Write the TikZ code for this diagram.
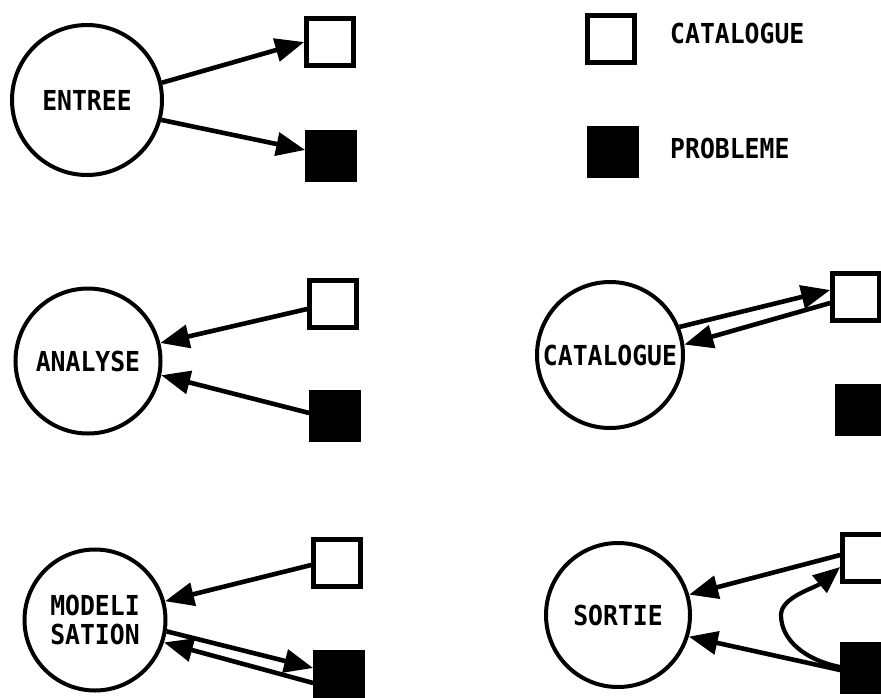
\documentclass[tikz,border=0pt]{standalone}
\usepackage{fontspec}
\setmonofont[FakeStretch=0.9]{DejaVu Sans Mono}
\usetikzlibrary{arrows.meta}
\tikzset{
  txt/.style={font=\ttfamily\bfseries\fontsize{27.5}{29}\selectfont},
  proc/.style={circle, draw, line width=4pt, inner sep=0pt, align=center, txt},
  catbox/.style={rectangle, draw, fill=white, line width=4.6pt, minimum size=47pt, inner sep=0pt},
  probbox/.style={rectangle, draw, fill=black, line width=4.6pt, minimum size=47pt, inner sep=0pt},
  conn/.style={line width=4.6pt, -{Triangle[length=29pt,width=23pt]}},
  loopconn/.style={line width=4.2pt, -{Triangle[length=27pt,width=22pt]}},
  lbl/.style={anchor=west, inner sep=0pt, txt}
}
\begin{document}
\begin{tikzpicture}[x=1pt,y=-1pt]
\useasboundingbox (0,0) rectangle (881,697);
\clip (0,0) rectangle (881,697);
\fill[white] (0,0) rectangle (881,697);

% legend
\node[catbox] (lw) at (611,39) {};
\node[probbox] (lb) at (613,152) {};
\node[lbl] (lt1) at (670,33) {CATALOGUE};
\node[lbl] (lt2) at (670,148) {PROBLEME};

% ENTREE
\node[proc, minimum size=150pt] (entree) at (87,100) {ENTREE};
\node[catbox] (ew) at (330,42) {};
\node[probbox] (eb) at (331,156) {};
\draw[conn] (entree.13) -- (ew.west);
\draw[conn] (entree.-15) -- ([yshift=6pt]eb.west);

% ANALYSE
\node[proc, minimum size=145pt] (analyse) at (88,361) {ANALYSE};
\node[catbox] (aw) at (333,304) {};
\node[probbox] (ab) at (335,416) {};
\draw[conn] ([yshift=-5pt]aw.west) -- (analyse.14);
\draw[conn] ([yshift=3pt]ab.west) -- (analyse.-11);

% CATALOGUE
\node[proc, minimum size=146pt] (cat) at (610,355) {CATALOGUE};
\node[catbox] (cw) at (856,297) {};
\node[probbox] (cb) at (861,410) {};
\draw[conn] (cat.22) -- ([yshift=7pt]cw.west);
\draw[conn] ([yshift=-6pt]cw.west) -- (cat.8);

% MODELISATION
\node[proc, minimum size=141pt] (model) at (95,620) {MODELI\\SATION};
\node[catbox] (mw) at (337,563) {};
\node[probbox] (mb) at (339,676) {};
\draw[conn] ([yshift=-2pt]mw.west) -- (model.15);
\draw[conn] (model.-9) -- ([yshift=8pt]mb.west);
\draw[conn] ([yshift=-7pt]mb.west) -- (model.-18);

% SORTIE
\node[proc, minimum size=144pt] (sortie) at (618,615) {SORTIE};
\node[catbox] (sw) at (866,558) {};
\node[probbox] (sb) at (866,668) {};
\coordinate (sloop) at (781,615);
\draw[conn] ([yshift=3pt]sw.west) -- (sortie.16);
\draw[conn] ([yshift=-2pt]sb.west) -- (sortie.-17);
\draw[loopconn] ([yshift=1pt]sb.west) .. controls (805,660) and (781,640) .. (sloop)
  .. controls (781,597) and (815,588) .. ([yshift=-9pt]sw.west);
\end{tikzpicture}
\end{document}
